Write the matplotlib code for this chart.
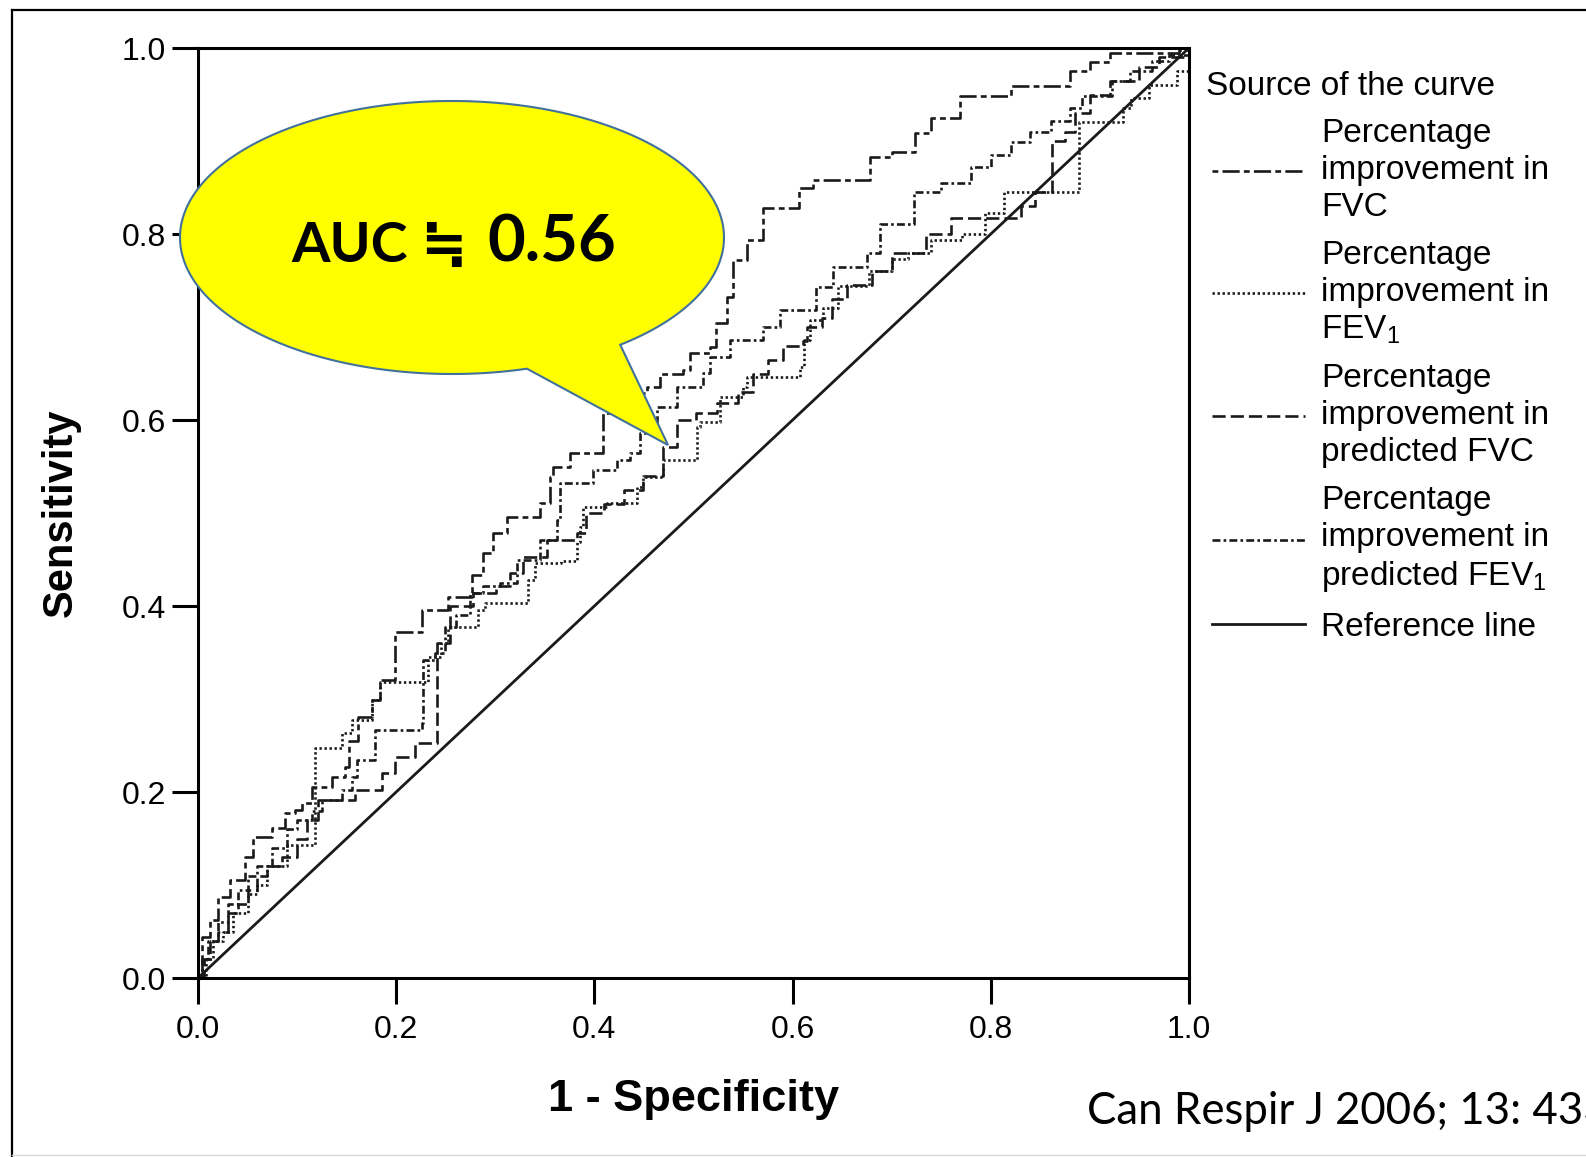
import matplotlib
matplotlib.use("Agg")
import matplotlib.pyplot as plt
from matplotlib.lines import Line2D
from matplotlib.patches import Polygon
import numpy as np

plt.rcParams['font.family'] = ['Liberation Sans', 'DejaVu Sans']
plt.rcParams['mathtext.fontset'] = 'custom'
plt.rcParams['mathtext.rm'] = 'Liberation Sans'
plt.rcParams['mathtext.it'] = 'Liberation Sans:italic'
plt.rcParams['mathtext.bf'] = 'Liberation Sans:bold'

# ---------------- data (1 - specificity, sensitivity) ----------------
fvc_fpr = [0, 0.004, 0.012, 0.020, 0.032, 0.047, 0.056, 0.075, 0.088, 0.098, 0.105, 0.115, 0.135, 0.148, 0.152,
           0.161, 0.176, 0.184, 0.199, 0.199, 0.226, 0.252, 0.276, 0.276, 0.288, 0.298, 0.312, 0.345, 0.355, 0.358,
           0.375, 0.409, 0.409, 0.443, 0.453, 0.466, 0.489, 0.496, 0.517, 0.523, 0.534, 0.540, 0.554, 0.570, 0.606,
           0.621, 0.678, 0.700, 0.724, 0.740, 0.769, 0.820, 0.880, 0.900, 0.920, 0.990, 1.0]
fvc_tpr = [0, 0.044, 0.062, 0.087, 0.105, 0.130, 0.152, 0.161, 0.177, 0.181, 0.188, 0.205, 0.216, 0.227, 0.255,
           0.281, 0.299, 0.320, 0.363, 0.372, 0.396, 0.410, 0.414, 0.433, 0.457, 0.478, 0.496, 0.511, 0.539, 0.549,
           0.564, 0.575, 0.608, 0.629, 0.636, 0.650, 0.654, 0.672, 0.679, 0.704, 0.732, 0.772, 0.794, 0.828, 0.850,
           0.858, 0.883, 0.888, 0.909, 0.925, 0.948, 0.959, 0.975, 0.985, 0.995, 0.998, 1.0]

fev1_fpr = [0, 0.008, 0.015, 0.025, 0.035, 0.050, 0.060, 0.070, 0.090, 0.118, 0.145, 0.155, 0.176, 0.184, 0.232,
            0.245, 0.252, 0.283, 0.290, 0.333, 0.340, 0.366, 0.382, 0.385, 0.389, 0.413, 0.443, 0.449, 0.469, 0.504,
            0.507, 0.527, 0.550, 0.554, 0.590, 0.607, 0.612, 0.618, 0.631, 0.646, 0.677, 0.700, 0.716, 0.740, 0.771,
            0.794, 0.813, 0.889, 0.933, 0.941, 0.960, 0.988, 1.0]
fev1_tpr = [0, 0.020, 0.040, 0.050, 0.070, 0.090, 0.100, 0.120, 0.143, 0.247, 0.263, 0.277, 0.299, 0.318, 0.345,
            0.360, 0.377, 0.396, 0.403, 0.428, 0.446, 0.448, 0.469, 0.485, 0.506, 0.511, 0.528, 0.539, 0.557, 0.592,
            0.598, 0.625, 0.635, 0.646, 0.646, 0.657, 0.686, 0.708, 0.720, 0.744, 0.760, 0.773, 0.780, 0.794, 0.800,
            0.823, 0.845, 0.920, 0.935, 0.946, 0.960, 0.975, 1.0]

pfvc_fpr = [0, 0.006, 0.012, 0.020, 0.030, 0.040, 0.050, 0.060, 0.070, 0.085, 0.100, 0.110, 0.121, 0.158, 0.179,
            0.186, 0.199, 0.219, 0.241, 0.241, 0.254, 0.278, 0.301, 0.315, 0.328, 0.352, 0.382, 0.392, 0.410, 0.430,
            0.449, 0.469, 0.483, 0.503, 0.524, 0.545, 0.560, 0.575, 0.590, 0.610, 0.615, 0.630, 0.640, 0.655, 0.680,
            0.700, 0.735, 0.760, 0.815, 0.830, 0.845, 0.862, 0.862, 0.875, 0.885, 0.900, 0.920, 0.950, 0.970, 1.0]
pfvc_tpr = [0, 0.020, 0.040, 0.050, 0.070, 0.080, 0.095, 0.110, 0.120, 0.130, 0.150, 0.170, 0.191, 0.202, 0.202,
            0.220, 0.238, 0.253, 0.268, 0.360, 0.400, 0.414, 0.421, 0.435, 0.453, 0.471, 0.478, 0.500, 0.510, 0.525,
            0.540, 0.571, 0.600, 0.607, 0.618, 0.630, 0.650, 0.665, 0.680, 0.685, 0.700, 0.710, 0.730, 0.745, 0.760,
            0.780, 0.800, 0.817, 0.817, 0.830, 0.845, 0.860, 0.900, 0.910, 0.930, 0.950, 0.965, 0.980, 0.990, 1.0]

pfev1_fpr = [0, 0.004, 0.010, 0.020, 0.030, 0.040, 0.050, 0.060, 0.075, 0.090, 0.100, 0.115, 0.125, 0.145, 0.155,
             0.160, 0.179, 0.179, 0.226, 0.227, 0.239, 0.249, 0.260, 0.274, 0.288, 0.305, 0.322, 0.345, 0.362, 0.365,
             0.392, 0.399, 0.423, 0.436, 0.446, 0.463, 0.476, 0.483, 0.510, 0.517, 0.537, 0.570, 0.587, 0.624, 0.641,
             0.675, 0.688, 0.723, 0.750, 0.780, 0.800, 0.820, 0.840, 0.861, 0.880, 0.892, 0.922, 0.940, 0.963, 0.980, 1.0]
pfev1_tpr = [0, 0.020, 0.040, 0.060, 0.080, 0.095, 0.110, 0.120, 0.140, 0.160, 0.170, 0.180, 0.191, 0.202, 0.216,
             0.234, 0.250, 0.267, 0.274, 0.342, 0.350, 0.377, 0.390, 0.414, 0.421, 0.425, 0.449, 0.471, 0.492, 0.532,
             0.532, 0.546, 0.557, 0.564, 0.586, 0.614, 0.614, 0.636, 0.651, 0.668, 0.686, 0.700, 0.718, 0.743, 0.765,
             0.780, 0.811, 0.845, 0.855, 0.872, 0.885, 0.899, 0.910, 0.921, 0.935, 0.948, 0.964, 0.975, 0.986, 0.993, 1.0]

ref_x = [0.0, 1.0]
ref_y = [0.0, 1.0]

legend_title = "Source of the curve"
labels = ["Percentage\nimprovement in\nFVC",
          "Percentage\nimprovement in\nFEV$_1$",
          "Percentage\nimprovement in\npredicted FVC",
          "Percentage\nimprovement in\npredicted FEV$_1$",
          "Reference line"]
ticks = [0.0, 0.2, 0.4, 0.6, 0.8, 1.0]
tick_labels = ["0.0", "0.2", "0.4", "0.6", "0.8", "1.0"]
callout_word = "AUC \u2252"
callout_value = "0.56"
citation = "Can Respir J 2006; 13: 433"

# ---------------- figure ----------------
W, H = 1586, 1157
fig = plt.figure(figsize=(W / 100, H / 100), dpi=100)
fig.patch.set_facecolor("white")

def fx(px):
    return px / W

def fy(py):
    return 1 - py / H

ax = fig.add_axes([fx(198), fy(978), (1189 - 198) / W, (978 - 48) / H])
ax.set_xlim(0, 1)
ax.set_ylim(0, 1)

ink = "#1a1a1a"
lw = 1.9
h1, = ax.plot(fvc_fpr, fvc_tpr, drawstyle="steps-post", color=ink, lw=lw, linestyle=(0, (2.2, 1.6, 6.5, 1.6)))
h2, = ax.plot(fev1_fpr, fev1_tpr, drawstyle="steps-post", color=ink, lw=lw, linestyle=(0, (0.9, 1.0)))
h3, = ax.plot(pfvc_fpr, pfvc_tpr, drawstyle="steps-post", color=ink, lw=lw, linestyle=(0, (5, 1.9)))
h4, = ax.plot(pfev1_fpr, pfev1_tpr, drawstyle="steps-post", color=ink, lw=lw, linestyle=(0, (3, 1.2, 1.0, 1.2)))
h5, = ax.plot(ref_x, ref_y, color=ink, lw=2.0, linestyle="-")

for s in ax.spines.values():
    s.set_linewidth(2.2)
    s.set_color("black")

ax.set_xticks(ticks)
ax.set_xticklabels(tick_labels)
ax.set_yticks(ticks)
ax.set_yticklabels(tick_labels)
ax.tick_params(axis="both", direction="out", length=19, width=2.2, labelsize=23, color="black")
ax.tick_params(axis="x", pad=8)
ax.tick_params(axis="y", pad=4)

ax.set_ylabel("Sensitivity", fontsize=30, fontweight="bold", va="center")
ax.yaxis.set_label_coords(-0.138, 0.5)
ax.set_xlabel("1 - Specificity", fontsize=32.5, fontweight="bold", va="center")
ax.xaxis.set_label_coords(0.5, -0.131)

fig.text(fx(1206), fy(95), legend_title, fontsize=24, ha="left", va="baseline")
leg = ax.legend([h1, h2, h3, h4, h5], labels,
                loc="upper left", bbox_to_anchor=(fx(1212), fy(118)), bbox_transform=fig.transFigure,
                frameon=False, fontsize=24, handlelength=2.8, handletextpad=0.48,
                labelspacing=0.52, borderpad=0, borderaxespad=0)
for t in leg.get_texts():
    t.set_linespacing(1.24)

# ---------------- outer frame ----------------
fig.add_artist(Line2D([fx(12), fx(12)], [fy(10), fy(1157)], color="black", lw=1.6))
fig.add_artist(Line2D([fx(12), fx(1586)], [fy(10), fy(10)], color="black", lw=1.6))
fig.add_artist(Line2D([fx(12), fx(1586)], [fy(1155), fy(1155)], color="#d8d8d8", lw=1.0))

# ---------------- speech bubble ----------------
cx, cy, a, b = 452, 237.5, 272, 136.5
t = np.radians(np.linspace(74, 360 + 51.8, 300))
ex = cx + a * np.cos(t)
ey = cy + b * np.sin(t)
px = list(ex) + [668]
py = list(ey) + [445]
pts = np.column_stack([[fx(v) for v in px], [fy(v) for v in py]])
bubble = Polygon(pts, closed=True, transform=fig.transFigure, facecolor="#FFFF00",
                 edgecolor="#41719C", lw=1.5, zorder=5)
fig.add_artist(bubble)

fig.text(fx(291), fy(262), callout_word, fontsize=40, fontweight="bold",
         family=["Lato", "Noto Sans CJK JP", "DejaVu Sans"], ha="left", va="baseline", zorder=6)
fig.text(fx(487), fy(262), callout_value, fontsize=47, fontweight="bold",
         family=["Lato", "DejaVu Sans"], ha="left", va="baseline", zorder=6)

fig.text(fx(1087), fy(1124), citation, fontsize=31.5, family=["Lato", "DejaVu Sans"],
         ha="left", va="baseline")

fig.savefig("out.png", dpi=100)
